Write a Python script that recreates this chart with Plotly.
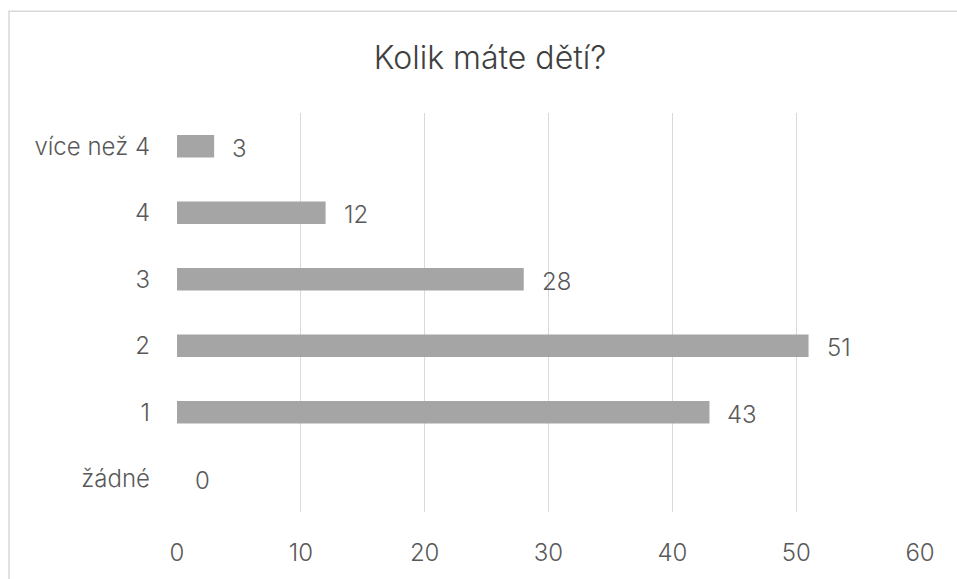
import plotly.graph_objects as go

categories = ["žádné", "1", "2", "3", "4", "více než 4"]
values = [0, 43, 51, 28, 12, 3]
x_ticks = [0, 10, 20, 30, 40, 50, 60]
title_text = "Kolik máte dětí?"

FONT = "Inter"
TXT = "#595959"
GRID = "#d9d9d9"

fig = go.Figure()
fig.add_trace(go.Bar(
    x=values, y=categories, orientation="h",
    marker=dict(color="#a5a5a5", line=dict(width=0)),
    width=0.34, hoverinfo="skip",
))

for c, v in zip(categories, values):
    fig.add_annotation(x=v, y=c, xref="x", yref="y", text=str(v),
                       showarrow=False, xanchor="left", xshift=16, yshift=-2,
                       font=dict(family=FONT, size=24, color=TXT, weight=300))

fig.update_layout(
    width=957, height=579,
    margin=dict(l=177, r=37, t=113, b=62),
    paper_bgcolor="white", plot_bgcolor="white",
    showlegend=False,
    title=dict(text=title_text, x=490 / 957, xanchor="center", y=0.901, yanchor="middle",
               xref="container",
               font=dict(family=FONT, size=32, color="#404040", weight=300)),
    font=dict(family=FONT, color=TXT),
)
fig.update_xaxes(range=[0, 60], tickvals=x_ticks, showgrid=True, gridcolor=GRID, gridwidth=1,
                 zeroline=False, showline=False, ticks="",
                 tickfont=dict(family=FONT, size=24, color=TXT, weight=300),
                 ticklabelstandoff=24)
fig.update_yaxes(categoryorder="array", categoryarray=categories, showgrid=False,
                 zeroline=False, showline=False, ticks="",
                 tickfont=dict(family=FONT, size=24, color=TXT, weight=300),
                 ticklabelstandoff=26)

fig.add_shape(type="rect", xref="paper", yref="paper",
              x0=(9 - 177) / 743, x1=2, y0=-1, y1=1 + 103 / 404,
              line=dict(color=GRID, width=1.5), fillcolor="rgba(0,0,0,0)", layer="below")

fig.write_html("out.html")
